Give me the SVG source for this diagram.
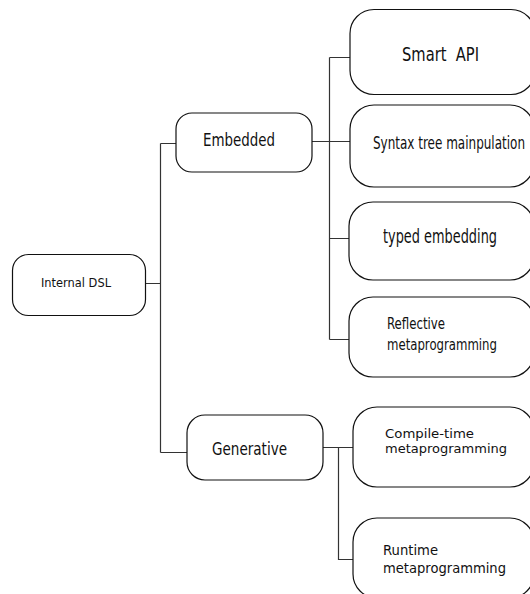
<svg xmlns="http://www.w3.org/2000/svg" width="530" height="594" viewBox="0 0 530 594">
  <style>
    .box { fill: #fff; stroke: #111; stroke-width: 1.2; }
    .wire { fill: none; stroke: #333; stroke-width: 1.2; }
    .cond { font-family: "DejaVu Sans Condensed", "DejaVu Sans", sans-serif; fill: #111; }
    .sans { font-family: "DejaVu Sans", "Noto Sans", sans-serif; fill: #111; }
  </style>
  <rect width="530" height="594" fill="#fff"/>

  <!-- tree connectors -->
  <g id="connectors">
    <path class="wire" d="M145.5 283.5 H160.5 M160.5 143.5 V452.5 M160.5 143.5 H176 M160.5 452.5 H187"/>
    <path class="wire" d="M312 141.5 H350 M329.5 57.5 V339.5 M329.5 57.5 H350 M329.5 238.5 H349 M329.5 339.5 H349"/>
    <path class="wire" d="M323 447.5 H353 M338.5 447.5 V559.5 H353"/>
  </g>

  <g id="internal-dsl">
    <rect class="box" x="12.5" y="254.5" width="133" height="61" rx="16"/>
    <text class="sans" x="41" y="287" font-size="12" textLength="70" lengthAdjust="spacingAndGlyphs">Internal DSL</text>
  </g>

  <g id="embedded">
    <rect class="box" x="176" y="113" width="136" height="59" rx="16"/>
    <text class="cond" x="203" y="146" font-size="18" textLength="72" lengthAdjust="spacingAndGlyphs">Embedded</text>
  </g>

  <g id="generative">
    <rect class="box" x="187" y="415" width="136" height="65" rx="18"/>
    <text class="cond" x="212" y="455" font-size="18" textLength="75" lengthAdjust="spacingAndGlyphs">Generative</text>
  </g>

  <g id="smart-api">
    <rect class="box" x="350" y="9.5" width="185" height="85" rx="24"/>
    <text class="cond" x="402" y="61" font-size="19" textLength="77" lengthAdjust="spacingAndGlyphs" xml:space="preserve">Smart  API</text>
  </g>

  <g id="syntax-tree">
    <rect class="box" x="350" y="105" width="184" height="82" rx="24"/>
    <text class="cond" x="373" y="149" font-size="17" textLength="152" lengthAdjust="spacingAndGlyphs">Syntax tree mainpulation</text>
  </g>

  <g id="typed-embedding">
    <rect class="box" x="349" y="202" width="185" height="78" rx="24"/>
    <text class="cond" x="383" y="243" font-size="19" textLength="114" lengthAdjust="spacingAndGlyphs">typed embedding</text>
  </g>

  <g id="reflective">
    <rect class="box" x="349" y="297" width="185" height="80" rx="24"/>
    <text class="cond" font-size="16">
      <tspan x="387" y="329" textLength="58" lengthAdjust="spacingAndGlyphs">Reflective</tspan>
      <tspan x="387" y="350" textLength="110" lengthAdjust="spacingAndGlyphs">metaprogramming</tspan>
    </text>
  </g>

  <g id="compile-time">
    <rect class="box" x="353" y="407" width="181" height="80" rx="24"/>
    <text class="sans" font-size="13">
      <tspan x="385" y="438" textLength="89" lengthAdjust="spacingAndGlyphs">Compile-time</tspan>
      <tspan x="385" y="453" textLength="122" lengthAdjust="spacingAndGlyphs">metaprogramming</tspan>
    </text>
  </g>

  <g id="runtime">
    <rect class="box" x="353" y="518" width="181" height="80" rx="24"/>
    <text class="sans" font-size="14">
      <tspan x="383" y="555" textLength="55" lengthAdjust="spacingAndGlyphs">Runtime</tspan>
      <tspan x="383" y="573" textLength="123" lengthAdjust="spacingAndGlyphs">metaprogramming</tspan>
    </text>
  </g>
</svg>
